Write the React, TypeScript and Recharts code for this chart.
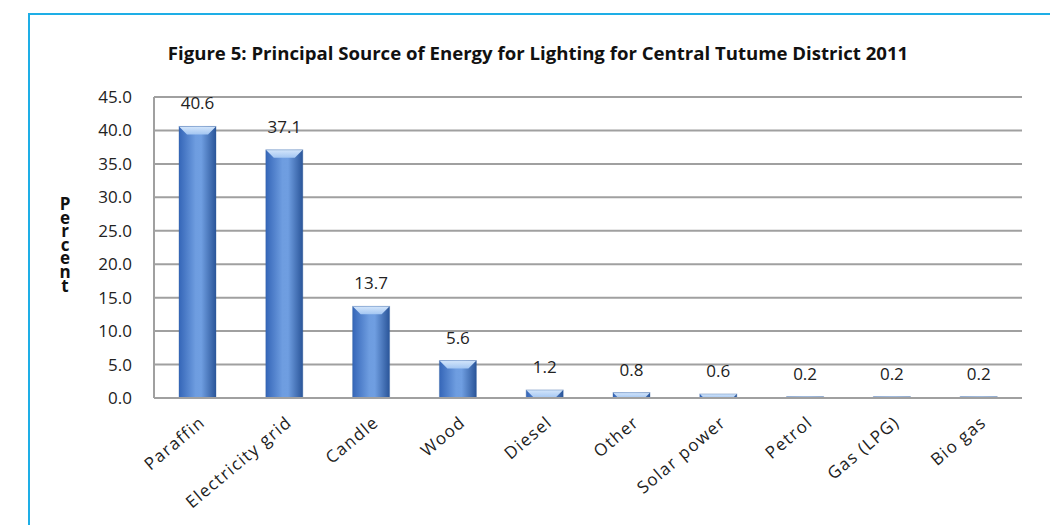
import React from 'react';
import { BarChart, Bar, XAxis, YAxis, CartesianGrid, LabelList } from 'recharts';

const CATEGORIES = ['Paraffin', 'Electricity grid', 'Candle', 'Wood', 'Diesel', 'Other', 'Solar power', 'Petrol', 'Gas (LPG)', 'Bio gas'];
const PERCENT = [40.6, 37.1, 13.7, 5.6, 1.2, 0.8, 0.6, 0.2, 0.2, 0.2];
const Y_TICKS = [0, 5, 10, 15, 20, 25, 30, 35, 40, 45];

const TITLE = 'Figure 5: Principal Source of Energy for Lighting for Central Tutume District 2011';
const Y_LABEL = 'Percent';

const data = CATEGORIES.map((name, i) => ({ name, value: PERCENT[i] }));

const FONT = '"Open Sans", Lato, sans-serif';

// bar with a bit of bevel on top, like the excel 3d-ish style
const BevelBar = (props: any) => {
    const x = Number(props.x), y = Number(props.y), width = Number(props.width), height = Number(props.height);
    if (!(height > 0)) return null;
    const b = Math.min(8, height, width / 4);
    const id = `bar-${props.index}`;
    return (
        <g>
            <defs>
                <linearGradient id={`${id}-body`} x1="0" y1="0" x2="1" y2="0">
                    <stop offset="0%" stopColor="#3566B8" />
                    <stop offset="45%" stopColor="#6E9DE0" />
                    <stop offset="60%" stopColor="#6F9EE1" />
                    <stop offset="100%" stopColor="#2A5599" />
                </linearGradient>
                <linearGradient id={`${id}-top`} x1="0" y1="0" x2="0" y2="1">
                    <stop offset="0%" stopColor="#D4E6FB" />
                    <stop offset="100%" stopColor="#A3C6F2" />
                </linearGradient>
            </defs>
            <rect x={x} y={y} width={width} height={height} fill={`url(#${id}-body)`} />
            <polygon
                points={`${x},${y} ${x + width},${y} ${x + width - b},${y + b} ${x + b},${y + b}`}
                fill={`url(#${id}-top)`}
            />
            <rect x={x} y={y} width={width} height={height} fill="none" stroke="#2E5C9E" strokeOpacity={0.35} />
        </g>
    );
};

const XTick = (props: any) => {
    const { x, y, payload } = props;
    return (
        <g transform={`translate(${x + 1},${y + 9}) rotate(-40)`}>
            <text x={0} y={0} dy="0.71em" textAnchor="end" fill="#222" fontSize={17} letterSpacing={1.3} fontFamily={FONT}>
                {payload.value}
            </text>
        </g>
    );
};

export default function App() {
    return (
        <div style={{ position: 'fixed', left: 0, top: 0, width: 1050, height: 525, background: '#fff' }}>
            <div
                style={{
                    position: 'absolute', left: 28, top: 13, right: -10, bottom: -10,
                    borderTop: '2px solid #1EAEE6', borderLeft: '2px solid #1EAEE6',
                }}
            />
            <div
                style={{
                    position: 'absolute', left: 0, width: 1076, top: 40, textAlign: 'center',
                    fontFamily: FONT, fontWeight: 700, fontSize: 18.6, color: '#111', whiteSpace: 'nowrap',
                }}
            >
                {TITLE}
            </div>
            <div
                style={{
                    position: 'absolute', left: 57, top: 197, width: 16, textAlign: 'center',
                    fontFamily: '"Liberation Sans Narrow", "Open Sans", sans-serif', fontWeight: 700,
                    fontSize: 17, lineHeight: '13.6px', color: '#111',
                }}
            >
                {Y_LABEL.split('').map((c, i) => <div key={i}>{c}</div>)}
            </div>
            <div style={{ position: 'absolute', left: 0, top: 0 }}>
                <BarChart
                    width={1050}
                    height={525}
                    data={data}
                    margin={{ top: 97, right: 28, left: 94, bottom: 27 }}
                    barSize={37}
                >
                    <CartesianGrid vertical={false} stroke="#A0A0A0" strokeWidth={2} />
                    <XAxis
                        dataKey="name"
                        interval={0}
                        height={100}
                        tickLine={false}
                        axisLine={{ stroke: '#A0A0A0', strokeWidth: 2 }}
                        tick={<XTick />}
                    />
                    <YAxis
                        width={60}
                        domain={[0, 45]}
                        ticks={Y_TICKS}
                        interval={0}
                        tickLine={false}
                        axisLine={{ stroke: '#A0A0A0', strokeWidth: 2 }}
                        tickMargin={16}
                        tickFormatter={(v: number) => v.toFixed(1)}
                        tick={{ fontSize: 17, fill: '#222', fontFamily: FONT }}
                    />
                    <Bar dataKey="value" shape={<BevelBar />} isAnimationActive={false}>
                        <LabelList
                            dataKey="value"
                            position="top"
                            offset={17}
                            formatter={(v: any) => Number(v).toFixed(1)}
                            style={{ fontSize: 17, fill: '#222', fontFamily: FONT }}
                        />
                    </Bar>
                </BarChart>
            </div>
        </div>
    );
}
